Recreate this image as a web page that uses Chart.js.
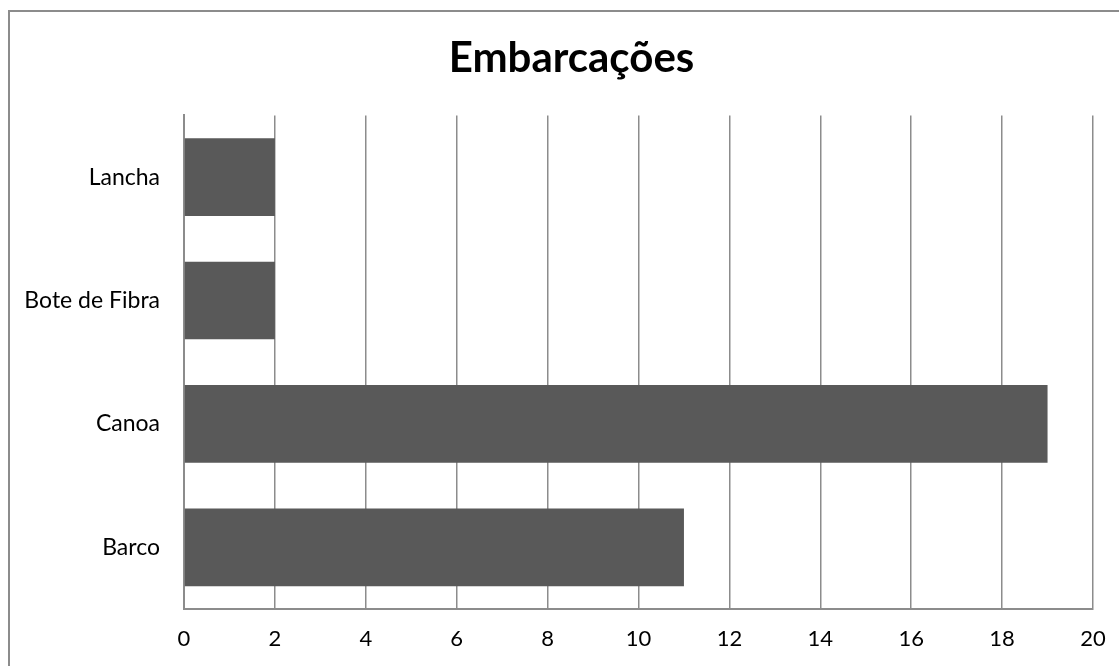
<!DOCTYPE html>
<html>
<head>
<meta charset="utf-8">
<script src="https://cdn.jsdelivr.net/npm/chart.js@4/dist/chart.umd.min.js"></script>
<style>
  html, body { margin: 0; padding: 0; background: #fff; overflow: hidden; }
  #wrap { position: relative; width: 1119px; height: 666px; }
  #frame {
    position: absolute; left: 8px; top: 10px; width: 1300px; height: 900px;
    border: 2px solid #8c8c8c; box-sizing: border-box; pointer-events: none;
  }
  #c { position: absolute; left: 0; top: 0; }
</style>
</head>
<body>
<div id="wrap">
  <div id="frame"></div>
  <canvas id="c" width="1119" height="666"></canvas>
</div>
<script>
// Boat types and their counts
const categories = ['Lancha', 'Bote de Fibra', 'Canoa', 'Barco'];
const counts = [2, 2, 19, 11];
const xTicks = [0, 2, 4, 6, 8, 10, 12, 14, 16, 18, 20];

const FONT = 'Lato, "Open Sans", sans-serif';
const GRID = '#8c8c8c';

// Centre the title over the frame rather than the full canvas
const titleShift = {
  id: 'titleShift',
  afterLayout(chart) {
    if (chart.titleBlock) chart.titleBlock.left += 50;
  }
};

new Chart(document.getElementById('c'), {
  type: 'bar',
  data: {
    labels: categories,
    datasets: [{
      data: counts,
      backgroundColor: '#595959',
      borderWidth: 0,
      categoryPercentage: 1,
      barPercentage: 0.63
    }]
  },
  plugins: [titleShift],
  options: {
    indexAxis: 'y',
    responsive: false,
    animation: false,
    layout: { padding: { left: 0, right: 26, top: 0, bottom: 0 } },
    plugins: {
      legend: { display: false },
      tooltip: { enabled: false },
      title: {
        display: true,
        text: 'Embarcações',
        color: '#000',
        font: { family: FONT, size: 42, weight: 'bold', lineHeight: 1.2 },
        padding: { top: 33, bottom: 32 }
      }
    },
    scales: {
      x: {
        min: 0, max: 20,
        afterBuildTicks: (s) => { s.ticks = xTicks.map(v => ({ value: v })); },
        afterFit: (s) => { s.height = 57; s.paddingLeft = 0; s.paddingRight = 0; },
        grid: { display: true, color: GRID, lineWidth: 1.5, drawTicks: false },
        border: { display: true, color: GRID, width: 2 },
        ticks: { color: '#000', font: { family: FONT, size: 22 }, padding: 17 }
      },
      y: {
        afterFit: (s) => { s.width = 184; },
        grid: { display: false, drawTicks: false },
        border: { display: true, color: GRID, width: 2 },
        ticks: { color: '#000', font: { family: FONT, size: 23 }, padding: 24 }
      }
    }
  }
});
</script>
</body>
</html>
